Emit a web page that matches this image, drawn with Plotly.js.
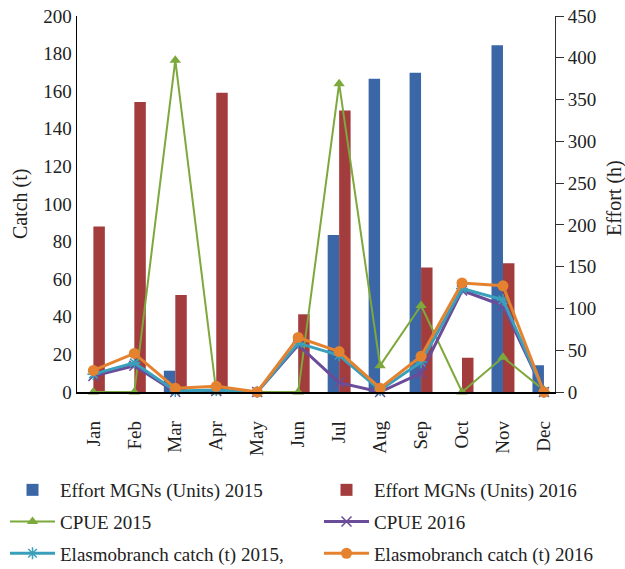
<!DOCTYPE html>
<html><head><meta charset="utf-8">
<script src="https://cdn.plot.ly/plotly-3.0.1.min.js"></script>
<style>html,body{margin:0;padding:0;background:#fff}#chart{width:625px;height:569px}</style>
</head><body><div id="chart"></div>
<script>
var months = ["Jan","Feb","Mar","Apr","May","Jun","Jul","Aug","Sep","Oct","Nov","Dec"];
// Effort (h) – right axis
var effort2015 = [0,0,25.5,0,0,0,188,375,382,0,415,32];
var effort2016 = [198,347,116,358,0,93,337,0,149,41,154,0];
// Catch (t) – left axis
var cpue2015 = [0,0,176.5,0,0,0,164,14,46,0,18.5,1];
var cpue2016 = [8.5,14,0,0.5,0,25,5,0,10,54,46,0];
var elasmo2015 = [9.5,15.5,0.5,1,0,26,19.5,1,16,55,49,0];
var elasmo2016 = [11.5,20.5,2,3,0,29,21.5,2,19,58,56.5,0];
var leftTitle = "Catch (t)";
var rightTitle = "Effort (h)";

var serif = '"Liberation Serif", "Times New Roman", Times, serif';
var traces = [
  {type:"bar", name:"Effort MGNs (Units) 2015", x:months, y:effort2015, yaxis:"y", legend:"legend", legendgroup:"a",
   marker:{color:"#3b67a6"}},
  {type:"bar", name:"Effort MGNs (Units) 2016", x:months, y:effort2016, yaxis:"y", legend:"legend2", legendgroup:"b",
   marker:{color:"#a33c3c"}},
  {type:"scatter", mode:"lines+markers", name:"CPUE 2015", x:months, y:cpue2015, yaxis:"y2", legend:"legend", legendgroup:"c",
   line:{color:"#7da83c", width:2}, marker:{symbol:"triangle-up", size:10, color:"#7da83c"}, cliponaxis:false},
  {type:"scatter", mode:"lines+markers", name:"CPUE 2016", x:months, y:cpue2016, yaxis:"y2", legend:"legend2", legendgroup:"d",
   line:{color:"#6a4c98", width:3}, marker:{symbol:"x-thin-open", size:10, line:{color:"#9a86c0", width:1.5}}, cliponaxis:false},
  {type:"scatter", mode:"lines+markers", name:"Elasmobranch catch (t) 2015,", x:months, y:elasmo2015, yaxis:"y2", legend:"legend", legendgroup:"e",
   line:{color:"#3a9fbb", width:3}, marker:{symbol:"asterisk-open", size:10, line:{color:"#3a9fbb", width:1.5}}, cliponaxis:false},
  {type:"scatter", mode:"lines+markers", name:"Elasmobranch catch (t) 2016", x:months, y:elasmo2016, yaxis:"y2", legend:"legend2", legendgroup:"f",
   line:{color:"#e4822f", width:3}, marker:{symbol:"circle", size:11, color:"#e4822f"}, cliponaxis:false}
];

var legendBase = {orientation:"v", xref:"container", yref:"container", xanchor:"left", yanchor:"top",
  itemwidth:45, tracegroupgap:4, traceorder:"grouped", font:{family:serif, size:19, color:"#222"},
  bgcolor:"rgba(0,0,0,0)", borderwidth:0};

var layout = {
  width:625, height:569,
  margin:{l:77, r:70, t:16, b:177, autoexpand:false},
  paper_bgcolor:"#fff", plot_bgcolor:"#fff",
  font:{family:serif, size:19, color:"#222"},
  barmode:"group", bargap:0.44, bargroupgap:0,
  showlegend:true,
  xaxis:{type:"category", range:[-0.4,11.27], tickangle:-90, showline:true, linecolor:"#000", linewidth:1.5,
         ticks:"", showgrid:false, zeroline:false, tickfont:{family:serif, size:19, color:"#222"}, ticklabelstandoff:20},
  yaxis:{side:"right", range:[0,450], dtick:50, showline:true, linecolor:"#333", linewidth:1,
         ticks:"outside", ticklen:8, tickcolor:"#333", showgrid:false, zeroline:false,
         tickfont:{family:serif, size:19, color:"#222"}},
  yaxis2:{overlaying:"y", side:"left", range:[0,200], dtick:20, showline:true, linecolor:"#000", linewidth:1.5,
          ticks:"", showgrid:false, zeroline:false, tickfont:{family:serif, size:19, color:"#222"}},
  annotations:[
    {text:leftTitle, xref:"paper", yref:"paper", x:-0.119, y:0.5, xanchor:"center", yanchor:"middle",
     textangle:-90, showarrow:false, font:{family:serif, size:20, color:"#222"}},
    {text:rightTitle, xref:"paper", yref:"paper", x:1.1255, y:0.516, xanchor:"center", yanchor:"middle",
     textangle:-90, showarrow:false, font:{family:serif, size:20, color:"#222"}}
  ],
  legend:Object.assign({}, legendBase, {x:5/625, y:1-471/569}),
  legend2:Object.assign({}, legendBase, {x:319/625, y:1-471/569})
};
Plotly.newPlot("chart", traces, layout, {displayModeBar:false, staticPlot:true});
</script></body></html>
